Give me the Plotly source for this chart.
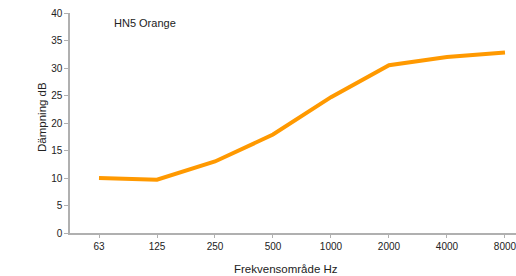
import plotly.graph_objects as go

categories = ["63", "125", "250", "500", "1000", "2000", "4000", "8000"]
damping_db = [10.0, 9.7, 13.0, 17.9, 24.7, 30.5, 32.0, 32.8]
y_ticks = [0, 5, 10, 15, 20, 25, 30, 35, 40]

font_family = "Liberation Sans, Arial, sans-serif"
W, H = 516, 276
L, R, T, B = 70, 0, 13, 43

fig = go.Figure()
fig.add_trace(go.Scatter(
    x=list(range(len(categories))), y=damping_db, mode="lines",
    line=dict(color="#FF9900", width=4), showlegend=False, hoverinfo="skip",
))

pw, ph = W - L - R, H - T - B

fig.update_layout(
    width=W, height=H,
    margin=dict(l=L, r=R, t=T, b=B, autoexpand=False),
    paper_bgcolor="white", plot_bgcolor="white",
    font=dict(family=font_family, size=10, color="#222"),
    xaxis=dict(
        range=[-0.5, 7.19], tickmode="array",
        tickvals=list(range(len(categories))), ticktext=categories,
        showgrid=False, zeroline=False, showline=True, linecolor="#b0b0b0", linewidth=1.5,
        ticks="outside", ticklen=3, tickcolor="#b0b0b0",
        ticklabeloverflow="allow",
        fixedrange=True,
    ),
    yaxis=dict(
        range=[0, 40], tickmode="array", tickvals=y_ticks,
        showgrid=False, zeroline=False, showline=True, linecolor="#b0b0b0", linewidth=1.5,
        ticks="outside", ticklen=4, tickcolor="#b0b0b0",
        ticklabeloverflow="allow",
        fixedrange=True,
    ),
    annotations=[
        dict(text="HN5 Orange", x=0.094, y=1.0, xref="paper", yref="paper",
             xanchor="left", yanchor="top", showarrow=False,
             font=dict(size=11, color="#222", family=font_family), yshift=-2),
        dict(text="Frekvensområde Hz", x=(286 - L) / pw, y=-(269 - (H - B)) / ph,
             xref="paper", yref="paper", xanchor="center", yanchor="middle",
             showarrow=False, font=dict(size=11.5, color="#222", family=font_family)),
        dict(text="Dämpning dB", x=-(L - 42) / pw, y=(H - B - 117) / ph,
             xref="paper", yref="paper", xanchor="center", yanchor="middle",
             textangle=-90, showarrow=False,
             font=dict(size=11.5, color="#222", family=font_family)),
    ],
)

post = ("document.documentElement.style.margin='0';"
        "document.body.style.margin='0';"
        "document.body.style.overflow='hidden';"
        "document.documentElement.style.overflow='hidden';")

fig.write_html("out.html", post_script=post, config={"displayModeBar": False})
